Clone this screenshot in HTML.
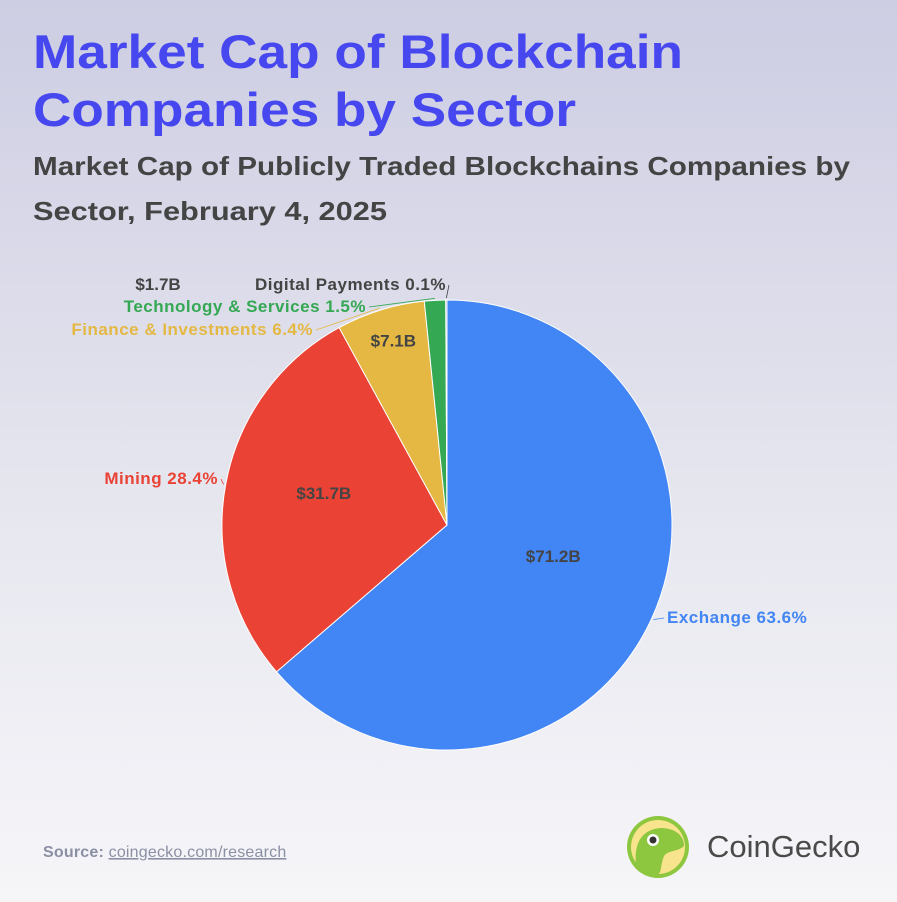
<!DOCTYPE html>
<html><head><meta charset="utf-8"><style>
html,body{margin:0;padding:0;}
body{width:897px;height:902px;overflow:hidden;background:linear-gradient(#cdcde3 0%,#e6e6ef 55%,#f6f6f9 100%);font-family:"Liberation Sans",sans-serif;}
svg{position:absolute;left:0;top:0;}
</style></head><body>
<svg width="897" height="902" id="chart">
<text x="33" y="68" font-size="47" font-weight="bold" fill="#4747f0" textLength="650" lengthAdjust="spacingAndGlyphs">Market Cap of Blockchain</text>
<text x="33" y="126" font-size="47" font-weight="bold" fill="#4747f0" textLength="543" lengthAdjust="spacingAndGlyphs">Companies by Sector</text>
<text x="33" y="175" font-size="26" font-weight="bold" fill="#444" textLength="817" lengthAdjust="spacingAndGlyphs">Market Cap of Publicly Traded Blockchains Companies by</text>
<text x="33" y="220" font-size="26" font-weight="bold" fill="#444" textLength="354" lengthAdjust="spacingAndGlyphs">Sector, February 4, 2025</text>
<g id="pie"></g>
<text x="43" y="857" font-size="16" font-weight="bold" fill="#8a8fa3" letter-spacing="0.2">Source: <tspan font-weight="normal" text-decoration="underline">coingecko.com/research</tspan></text>
<g>
<circle cx="658" cy="847" r="31" fill="#8dc63f"/>
<circle cx="658" cy="847" r="27" fill="#f8e48c"/>
<path d="M636,866 C634,845 640,830 660,828 C676,828 684,836 684,846 C678,852 668,850 664,856 C660,866 662,872 658,874 C648,874 640,871 636,866Z" fill="#8dc63f"/>
<circle cx="653" cy="840" r="6" fill="#fff"/><circle cx="653" cy="840" r="3.5" fill="#333"/>
<text x="707" y="857" font-size="31" fill="#4a4a4a">CoinGecko</text>
</g>
</svg>
<script>
const categories=["Exchange","Mining","Finance & Investments","Technology & Services","Digital Payments"];
const values=[71.2,31.7,7.1,1.7,0.1];
const valueLabels=["$71.2B","$31.7B","$7.1B","$1.7B",""];
const percents=["63.6%","28.4%","6.4%","1.5%","0.1%"];
const colors=["#4285f4","#ea4335","#e4b843","#34a853","#5f6bd0"];
const labelColors=["#4285f4","#ea4335","#e4b843","#34a853","#444"];
const NS="http://www.w3.org/2000/svg";
const g=document.getElementById('pie');
const cx=447,cy=525,r=225;
const total=values.reduce((a,b)=>a+b,0);
function pt(a,rr){return [cx+rr*Math.sin(a),cy-rr*Math.cos(a)];}
let a0=0;
const inR=[0.49,0.57,0.85];
const inNudge=[[6,-15],[3,-9],[3,-2]];
const outPos=[[667,623,'start'],[218,484,'end'],[313,335,'end'],[366,312,'end'],[446,290,'end']];
values.forEach((v,i)=>{
  const a1=a0+v/total*2*Math.PI;
  const p0=pt(a0,r),p1=pt(a1,r);
  const large=(a1-a0)>Math.PI?1:0;
  const p=document.createElementNS(NS,'path');
  p.setAttribute('d',`M${cx},${cy}L${p0[0]},${p0[1]}A${r},${r} 0 ${large} 1 ${p1[0]},${p1[1]}Z`);
  p.setAttribute('fill',colors[i]);p.setAttribute('stroke','#fff');p.setAttribute('stroke-width','1');
  
  
  g.appendChild(p);
  const mid=(a0+a1)/2;
  if(valueLabels[i] && i<3){
    const lp=pt(mid,r*inR[i]);
    const t=document.createElementNS(NS,'text');
    t.setAttribute('x',lp[0]+inNudge[i][0]);t.setAttribute('y',lp[1]+6+inNudge[i][1]);t.setAttribute('text-anchor','middle');
    t.setAttribute('font-size','17');t.setAttribute('font-weight','bold');t.setAttribute('fill','#444');
    t.textContent=valueLabels[i];
    
    
    g.appendChild(t);
  }
  const op=outPos[i];
  const ep=pt(mid,r+2);
  const ln=document.createElementNS(NS,'path');
  ln.setAttribute('d',`M${ep[0]},${ep[1]}L${op[0]+(op[2]==='start'?-3:3)},${op[1]-5}`);
  ln.setAttribute('stroke',labelColors[i]);ln.setAttribute('fill','none');ln.setAttribute('stroke-width','0.8');
  
  
  g.appendChild(ln);
  const t=document.createElementNS(NS,'text');
  t.setAttribute('x',op[0]);t.setAttribute('y',op[1]);t.setAttribute('text-anchor',op[2]);
  t.setAttribute('font-size','17');t.setAttribute('font-weight','bold');t.setAttribute('fill',labelColors[i]);
  t.setAttribute('letter-spacing','0.5');
  t.textContent=categories[i]+' '+percents[i];
  
  
  g.appendChild(t);
  a0=a1;
});
const t3=document.createElementNS(NS,'text');
t3.setAttribute('x',158);t3.setAttribute('y',290);t3.setAttribute('text-anchor','middle');
t3.setAttribute('font-size','17');t3.setAttribute('font-weight','bold');t3.setAttribute('fill','#444');
t3.textContent=valueLabels[3];


g.appendChild(t3);
</script>
</body></html>
